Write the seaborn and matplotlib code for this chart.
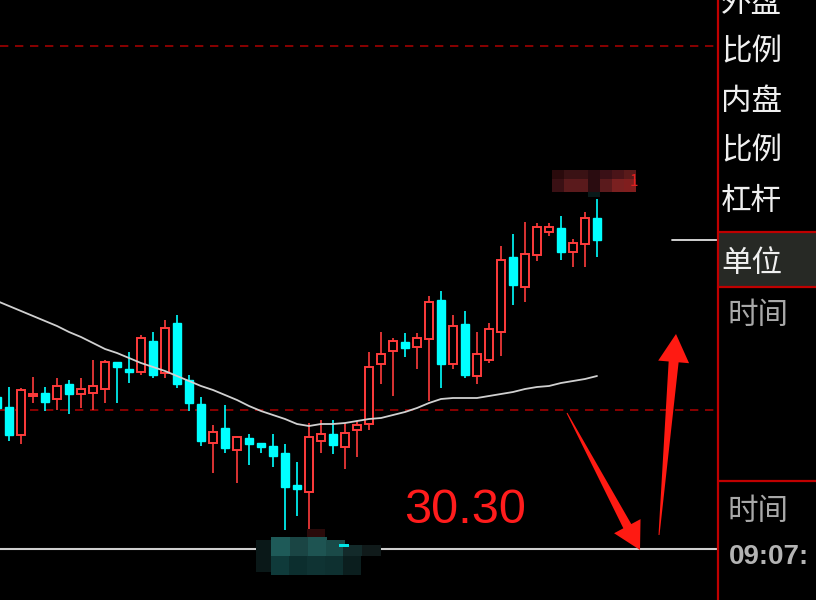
import numpy as np
import matplotlib
matplotlib.use("Agg")
import matplotlib.pyplot as plt
from matplotlib.patches import Rectangle, Polygon
import seaborn as sns

# candle data
opens = [30.606, 30.586, 30.530, 30.608, 30.614, 30.602, 30.632, 30.612, 30.614, 30.622,
         30.676, 30.662, 30.656, 30.718, 30.654, 30.754, 30.640, 30.592, 30.514, 30.544,
         30.500, 30.524, 30.514, 30.508, 30.494, 30.430, 30.416, 30.518, 30.532, 30.506,
         30.540, 30.552, 30.672, 30.698, 30.716, 30.706, 30.722, 30.800, 30.672, 30.752,
         30.648, 30.680, 30.736, 30.886, 30.826, 30.890, 30.936, 30.944, 30.896, 30.912,
         30.964]
highs = [30.620, 30.626, 30.624, 30.646, 30.626, 30.644, 30.640, 30.644, 30.680, 30.680,
         30.676, 30.696, 30.730, 30.736, 30.760, 30.770, 30.650, 30.606, 30.550, 30.590,
         30.528, 30.532, 30.514, 30.532, 30.512, 30.476, 30.554, 30.560, 30.560, 30.554,
         30.558, 30.696, 30.736, 30.724, 30.734, 30.734, 30.808, 30.818, 30.770, 30.778,
         30.736, 30.754, 30.908, 30.932, 30.956, 30.954, 30.954, 30.968, 30.922, 30.976,
         31.002]
lows = [30.576, 30.518, 30.512, 30.594, 30.578, 30.580, 30.572, 30.584, 30.580, 30.594,
        30.594, 30.634, 30.650, 30.644, 30.644, 30.624, 30.578, 30.508, 30.454, 30.494,
        30.434, 30.470, 30.494, 30.466, 30.340, 30.368, 30.340, 30.494, 30.492, 30.462,
        30.486, 30.540, 30.632, 30.608, 30.686, 30.662, 30.598, 30.624, 30.662, 30.644,
        30.632, 30.674, 30.688, 30.790, 30.796, 30.878, 30.928, 30.880, 30.866, 30.866,
        30.886]
closes = [30.584, 30.530, 30.620, 30.612, 30.596, 30.628, 30.612, 30.622, 30.628, 30.676,
          30.666, 30.656, 30.724, 30.650, 30.744, 30.632, 30.594, 30.518, 30.536, 30.504,
          30.526, 30.512, 30.506, 30.488, 30.426, 30.422, 30.526, 30.532, 30.510, 30.534,
          30.550, 30.666, 30.692, 30.718, 30.704, 30.724, 30.796, 30.672, 30.748, 30.650,
          30.692, 30.742, 30.880, 30.830, 30.892, 30.946, 30.946, 30.896, 30.914, 30.964,
          30.920]
ma_line = [30.798, 30.788, 30.778, 30.768, 30.758, 30.748, 30.736, 30.726, 30.714, 30.702,
           30.694, 30.684, 30.674, 30.666, 30.658, 30.648, 30.638, 30.628, 30.620, 30.610,
           30.600, 30.588, 30.578, 30.570, 30.562, 30.552, 30.548, 30.552, 30.552, 30.554,
           30.558, 30.562, 30.564, 30.570, 30.576, 30.584, 30.594, 30.602, 30.604, 30.604,
           30.604, 30.608, 30.612, 30.616, 30.622, 30.626, 30.628, 30.634, 30.638, 30.642,
           30.648]
upper_dash = 31.308
prev_dash = 30.580
low_mark = 30.302
low_label = "30.30"
panel_labels = ["外盘", "比例", "内盘", "比例", "杠杆"]
unit_label = "单位"
time_label = "时间"
time_value = "09:07:"

sns.set_style("dark")
plt.rcParams["font.family"] = ["Noto Sans CJK SC", "DejaVu Sans"]

UP = "#ff3c3c"
DOWN = "#00ffff"

fig = plt.figure(figsize=(8.16, 6.0), dpi=100, facecolor="black")
ax = fig.add_axes([0, 0, 718 / 816, 1])
ax.set_facecolor("black")

idx = np.arange(len(opens))
o = np.array(opens)
c = np.array(closes)
up = c >= o

# wicks
ax.vlines(idx[up], np.array(lows)[up], np.array(highs)[up], color=UP, lw=1.2, zorder=2)
ax.vlines(idx[~up], np.array(lows)[~up], np.array(highs)[~up], color=DOWN, lw=1.2, zorder=2)
# bodies
ax.bar(idx[up], np.maximum(np.abs(c - o)[up], 0.002), bottom=np.minimum(o, c)[up],
       width=0.74, facecolor="black", edgecolor=UP, linewidth=1.4, zorder=3)
ax.bar(idx[~up], np.maximum(np.abs(c - o)[~up], 0.002), bottom=np.minimum(o, c)[~up],
       width=0.74, facecolor=DOWN, edgecolor=DOWN, linewidth=1.0, zorder=3)

sns.lineplot(x=idx, y=ma_line, color="#d0d0d0", lw=1.3, ax=ax, zorder=4)

ax.axhline(upper_dash, color="#a00000", lw=1.2, ls=(0, (5, 4)), zorder=1)
ax.axhline(prev_dash, color="#a00000", lw=1.2, ls=(0, (5, 4)), zorder=1)
ax.axhline(low_mark, color="#cfcfcf", lw=1.5, zorder=1)
ax.axhline(closes[-1], xmin=672 / 718, xmax=1, color="#e0e0e0", lw=1.3)

ax.set_xlim(0.25, 60.083)
ax.set_ylim(30.2, 31.4)
ax.set_xticks([])
ax.set_yticks([])
for s in ax.spines.values():
    s.set_visible(False)
ax.grid(False)

# overlay in pixel coordinates for panel, markup and mosaics
ov = fig.add_axes([0, 0, 1, 1], zorder=5)
ov.set_xlim(0, 816)
ov.set_ylim(600, 0)
ov.axis("off")
ov.patch.set_alpha(0)

# right panel
ov.add_patch(Rectangle((719, 233), 97, 53, facecolor="#272925", edgecolor="none"))
ov.plot([718, 718], [0, 600], color="#c00000", lw=1.6)
for yy in (232, 287, 481):
    ov.plot([718, 816], [yy, yy], color="#c00000", lw=1.6)
for lab, yy in zip(panel_labels, [3, 52, 101, 151, 202]):
    ov.text(721, yy, lab, color="#f0f0f0", fontsize=22, va="center", ha="left")
ov.text(721, 263, unit_label, color="#f0f0f0", fontsize=22, va="center", ha="left")
ov.text(728, 316, time_label, color="#a8a8a8", fontsize=22, va="center", ha="left")
ov.text(728, 511, time_label, color="#a8a8a8", fontsize=22, va="center", ha="left")
ov.text(729, 557, time_value, color="#b4b4b4", fontsize=20, fontweight="bold",
        family="Liberation Sans", va="center", ha="left")

ov.text(404, 523, low_label, color="#ff1c1c", fontsize=35, family="Liberation Sans",
        va="baseline", ha="left")


def tapered_arrow(tail, tip, tail_w, shaft_w, head_len, head_w):
    tail = np.array(tail, float)
    tip = np.array(tip, float)
    d = (tip - tail) / np.linalg.norm(tip - tail)
    n = np.array([-d[1], d[0]])
    b = tip - d * head_len
    pts = [tail + n * tail_w / 2, b + n * shaft_w / 2, b + n * head_w / 2, tip,
           b - n * head_w / 2, b - n * shaft_w / 2, tail - n * tail_w / 2]
    ov.add_patch(Polygon(pts, closed=True, facecolor="#ff1a12", edgecolor="none"))


tapered_arrow((567, 413), (640, 550), 1, 9, 27, 30)
tapered_arrow((659, 535), (676, 334), 1, 10, 28, 31)

# pixelated (redacted) labels
row1 = ["#2a0a0c", "#3a1214", "#3a1214", "#2a0c10", "#3a1016", "#4a1418", "#5a1a1a"]
row2 = ["#3a1014", "#5a1a1c", "#5a1a1c", "#2a0c10", "#5a1a1c", "#7a2020", "#801e1e"]
for i, col in enumerate(row1):
    ov.add_patch(Rectangle((552 + 12 * i, 170), 12, 9, facecolor=col, edgecolor="none"))
for i, col in enumerate(row2):
    ov.add_patch(Rectangle((552 + 12 * i, 179), 12, 13, facecolor=col, edgecolor="none"))
ov.add_patch(Rectangle((588, 192), 12, 5, facecolor="#0a1a1a", edgecolor="none"))
ov.text(634, 181, "1", color="#e02020", fontsize=11, va="center", ha="center")

ov.add_patch(Rectangle((256, 540), 16, 32, facecolor="#0a1818", edgecolor="none"))
ov.add_patch(Rectangle((307, 529), 18, 8, facecolor="#2a0a0a", edgecolor="none"))
top = [("#1e5a58", 271, 537), ("#1a4544", 290, 537), ("#1e5452", 308, 537),
       ("#1a4a48", 326, 540), ("#132a2a", 343, 545), ("#101a1a", 362, 545)]
for col, x0, y0 in top:
    ov.add_patch(Rectangle((x0, y0), 19, 556 - y0, facecolor=col, edgecolor="none"))
bottom = ["#0f3a3a", "#0c2e2e", "#0f3333", "#0e3030", "#0b1e1e"]
for i, col in enumerate(bottom):
    ov.add_patch(Rectangle((271 + 18 * i, 556), 18, 19, facecolor=col, edgecolor="none"))
ov.add_patch(Rectangle((339, 544), 10, 3, facecolor="#00e5e5", edgecolor="none"))

fig.savefig("out.png", dpi=100, facecolor="black")
